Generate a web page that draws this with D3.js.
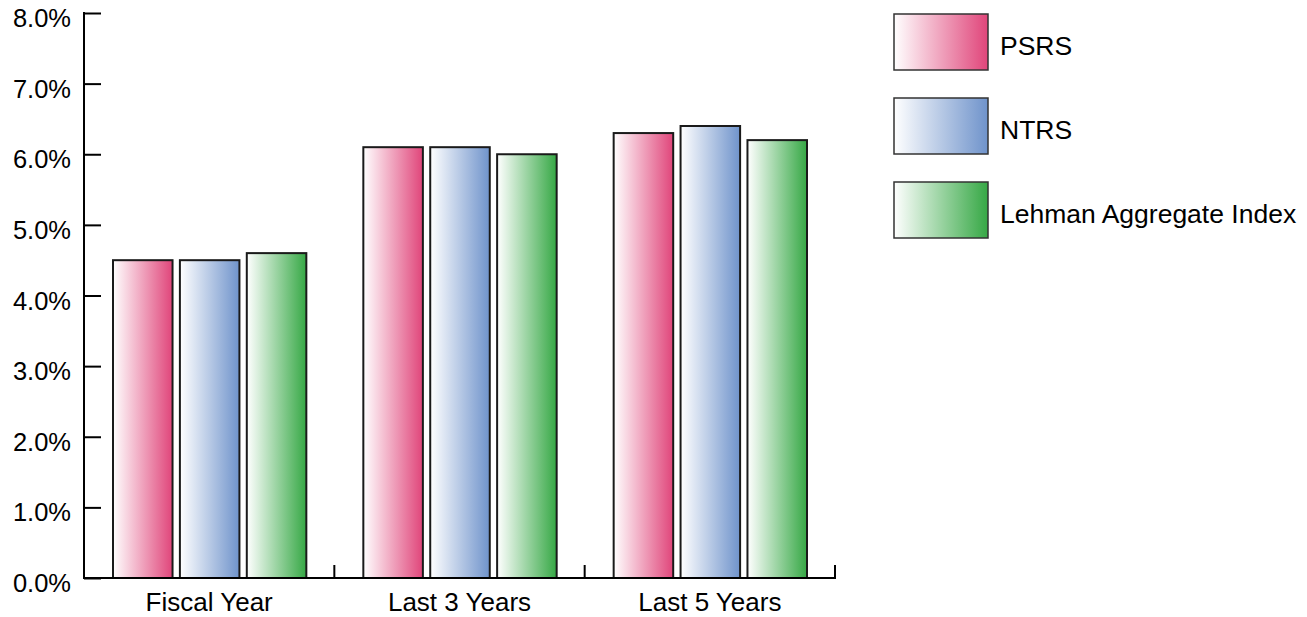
<!DOCTYPE html>
<html><head><meta charset="utf-8">
<script src="https://cdn.jsdelivr.net/npm/d3@7"></script>
<style>body{margin:0;background:#fff}svg{display:block}text{font-family:"Liberation Sans",Arial,sans-serif}</style>
</head><body>
<svg id="c" width="1307" height="617"></svg>
<script>
const categories = ["Fiscal Year", "Last 3 Years", "Last 5 Years"];
const seriesNames = ["PSRS", "NTRS", "Lehman Aggregate Index"];
const psrs = [4.5, 6.1, 6.3];
const ntrs = [4.5, 6.1, 6.4];
const lehman = [4.6, 6.0, 6.2];
const yTicks = [0, 1, 2, 3, 4, 5, 6, 7, 8];
const colors = ["#e0457a", "#6f93cb", "#36a845"];

const values = [psrs, ntrs, lehman];
const svg = d3.select("#c");
const x0 = 84, x1 = 835, yTop = 13, yBot = 578;

const y = d3.scaleLinear().domain([0, 8]).range([yBot, yTop]);
const x = d3.scaleBand().domain(categories).range([x0, x1]).paddingInner(0).paddingOuter(0);
const xs = d3.scaleBand().domain(seriesNames).range([29, x.bandwidth() - 28]).paddingInner(0.11);

const defs = svg.append("defs");
colors.forEach((c, i) => {
  const g = defs.append("linearGradient").attr("id", "g" + i).attr("x1", "0").attr("x2", "1").attr("y1", "0").attr("y2", "0");
  g.append("stop").attr("offset", "0").attr("stop-color", "#ffffff");
  g.append("stop").attr("offset", "1").attr("stop-color", c);
});

// bars
categories.forEach((cat, ci) => {
  seriesNames.forEach((s, si) => {
    const v = values[si][ci];
    svg.append("rect")
      .attr("x", x(cat) + xs(s))
      .attr("y", y(v))
      .attr("width", xs.bandwidth())
      .attr("height", y(0) - y(v))
      .attr("fill", `url(#g${si})`)
      .attr("stroke", "#1a1a1a")
      .attr("stroke-width", 2);
  });
});

// y axis
const yAxis = d3.axisRight(y).tickValues(yTicks).tickSize(17).tickFormat("");
const ya = svg.append("g").attr("transform", `translate(${x0},0)`).call(yAxis);
ya.select(".domain").remove();
ya.selectAll(".tick line").attr("stroke", "#000").attr("stroke-width", 2);
svg.append("line").attr("x1", x0).attr("x2", x0).attr("y1", yTop - 1).attr("y2", yBot + 1).attr("stroke", "#000").attr("stroke-width", 2);
svg.selectAll(".ylab").data(yTicks).enter().append("text")
  .attr("x", 71).attr("y", d => y(d) + 14)
  .attr("text-anchor", "end").attr("font-size", 25.5).attr("fill", "#000")
  .text(d => d.toFixed(1) + "%");

// x axis
svg.append("line").attr("x1", x0 - 1).attr("x2", x1 + 1).attr("y1", yBot).attr("y2", yBot).attr("stroke", "#000").attr("stroke-width", 2);
categories.forEach(cat => {
  svg.append("line").attr("x1", x(cat) + x.bandwidth()).attr("x2", x(cat) + x.bandwidth())
    .attr("y1", yBot).attr("y2", yBot - 13).attr("stroke", "#000").attr("stroke-width", 2);
  svg.append("text").attr("x", x(cat) + x.bandwidth() / 2).attr("y", 611)
    .attr("text-anchor", "middle").attr("font-size", 26).attr("fill", "#000").text(cat);
});

// legend
seriesNames.forEach((s, i) => {
  const ly = 14 + i * 84;
  svg.append("rect").attr("x", 894).attr("y", ly).attr("width", 94).attr("height", 56)
    .attr("fill", `url(#g${i})`).attr("stroke", "#333").attr("stroke-width", 1.5);
  svg.append("text").attr("x", 1000).attr("y", ly + 41)
    .attr("font-size", 26.5).attr("fill", "#000").text(s);
});
</script>
</body></html>
